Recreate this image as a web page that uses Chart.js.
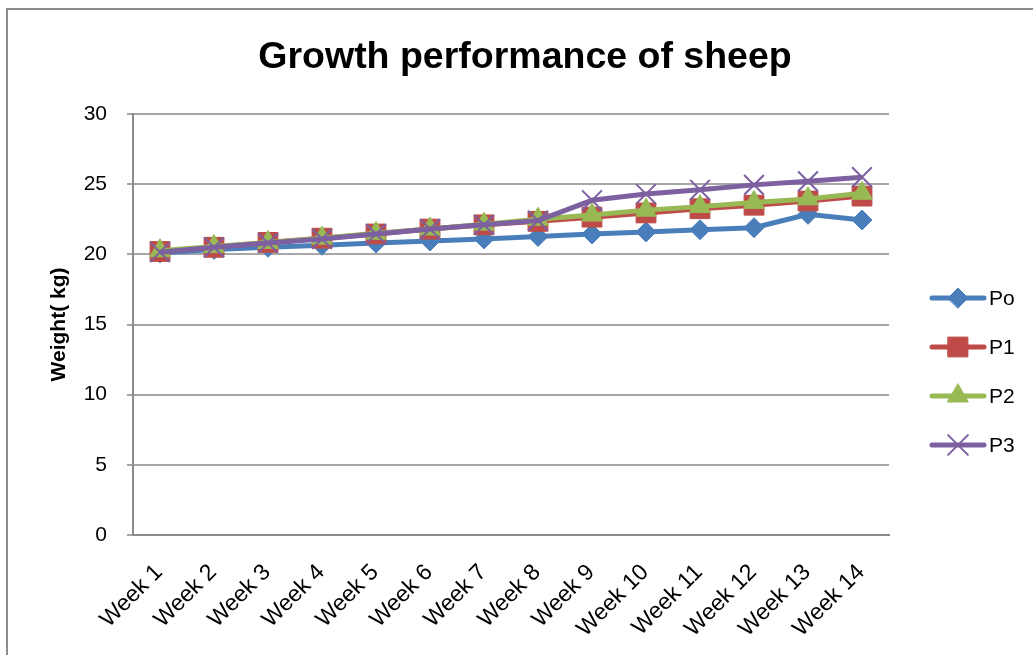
<!DOCTYPE html>
<html>
<head>
<meta charset="utf-8">
<script src="https://cdn.jsdelivr.net/npm/chart.js@4/dist/chart.umd.min.js"></script>
<style>
	body { margin: 0; background: #fff; }
	#wrap { position: relative; width: 1033px; height: 655px; }
	#frame { position: absolute; left: 6px; top: 8px; width: 1040px; height: 660px; border-left: 2px solid #8c8c8c; border-top: 2px solid #8c8c8c; }
	canvas { position: absolute; left: 0; top: 0; }
</style>
</head>
<body>
<div id="wrap">
	<div id="frame"></div>
	<canvas id="chart" width="1033" height="655"></canvas>
</div>
<script>
var weeks=["Week 1","Week 2","Week 3","Week 4","Week 5","Week 6","Week 7","Week 8","Week 9","Week 10","Week 11","Week 12","Week 13","Week 14"];
var po=[20.1, 20.35, 20.5, 20.65, 20.8, 20.95, 21.1, 21.27, 21.45, 21.6, 21.75, 21.9, 22.85, 22.45];
var p1=[20.2, 20.5, 20.85, 21.15, 21.45, 21.8, 22.1, 22.35, 22.65, 22.95, 23.25, 23.5, 23.8, 24.15];
var p2=[20.25, 20.55, 20.85, 21.15, 21.5, 21.8, 22.15, 22.5, 22.8, 23.15, 23.4, 23.7, 23.95, 24.35];
var p3=[20.15, 20.5, 20.8, 21.1, 21.45, 21.8, 22.1, 22.4, 23.85, 24.3, 24.6, 24.95, 25.2, 25.5];
var yTicks=[0,5,10,15,20,25,30];

var FONT="'Liberation Sans', Arial, sans-serif";

function series(label, data, color, style, radius, order) {
	return {
		label: label,
		data: data,
		order: order,
		borderColor: color,
		backgroundColor: color,
		borderWidth: 5,
		pointStyle: style,
		pointRadius: radius,
		pointHoverRadius: radius,
		pointBackgroundColor: color,
		pointBorderColor: color,
		pointBorderWidth: style=="crossRot" ? 2 : 1,
		tension: 0
	};
}

// legend drawn by hand: line with marker, like the spreadsheet one
var sideLegend={
	id: 'sideLegend',
	afterDraw: function(chart) {
		var ctx=chart.ctx;
		var sets=chart.data.datasets;
		for (var i=0; i<sets.length; i++) {
			var ds=sets[i];
			var y=298+i*49;
			ctx.save();
			ctx.strokeStyle=ds.borderColor;
			ctx.lineWidth=5;
			ctx.lineCap='round';
			ctx.beginPath();
			ctx.moveTo(932, y);
			ctx.lineTo(984, y);
			ctx.stroke();
			ctx.fillStyle=ds.pointBackgroundColor;
			ctx.strokeStyle=ds.pointBorderColor;
			ctx.lineWidth=ds.pointBorderWidth;
			Chart.helpers.drawPoint(ctx, {pointStyle: ds.pointStyle, radius: ds.pointRadius, borderWidth: ds.pointBorderWidth}, 958, y);
			ctx.fillStyle='#000';
			ctx.font='21px '+FONT;
			ctx.textBaseline='middle';
			ctx.textAlign='left';
			ctx.fillText(ds.label, 989, y+1);
			ctx.restore();
		}
	}
};

window.onload=function() {
	var chart=new Chart(document.getElementById('chart').getContext('2d'), {
		type: 'line',
		data: {
			labels: weeks,
			datasets: [
				// later series sit on top, as in the spreadsheet
				series("Po", po, "#4a7ebb", "rectRot", 10, 4),
				series("P1", p1, "#be4b48", "rect", 14, 3),
				series("P2", p2, "#98b954", "triangle", 12, 2),
				series("P3", p3, "#7d60a0", "crossRot", 14, 1)
			]
		},
		options: {
			responsive: false,
			animation: false,
			layout: { padding: { left: 20, right: 3, top: 20, bottom: 8 } },
			plugins: {
				legend: { display: false },
				tooltip: { enabled: false },
				title: {
					display: true,
					text: "Growth performance of sheep",
					color: '#000',
					font: { family: FONT, size: 37.5, weight: 'bold' },
					padding: { top: 15, bottom: 34 }
				}
			},
			scales: {
				x: {
					offset: true,
					grid: { display: false },
					border: { display: true, color: '#8c8c8c', width: 2 },
					ticks: {
						color: '#000',
						font: { family: FONT, size: 23 },
						maxRotation: 45,
						minRotation: 45,
						autoSkip: false,
						padding: 16,
						labelOffset: -1
					},
					// rotated labels may hang past the plot edges, as in the original
					afterFit: function(axis) { axis.paddingLeft=0; axis.paddingRight=0; axis.height=112; }
				},
				y: {
					min: 0,
					max: 30,
					afterBuildTicks: function(axis) {
						axis.ticks=yTicks.map(function(v) { return {value: v}; });
					},
					grid: { color: '#a6a6a6', lineWidth: 2, tickLength: 6 },
					border: { display: true, color: '#8c8c8c', width: 2 },
					ticks: {
						color: '#000',
						font: { family: FONT, size: 21 },
						padding: 20
					},
					title: {
						display: true,
						text: "Weight( kg)",
						color: '#000',
						font: { family: FONT, size: 21, weight: 'bold' },
						padding: { top: 27, bottom: 11 }
					},
					// chart.js counts the tick padding twice; keep the axis tight
					afterFit: function(axis) { axis.width=113; }
				},
				// empty axis on the right, keeps room for the legend
				legendRoom: {
					type: 'linear',
					position: 'right',
					display: true,
					grid: { display: false, drawTicks: false },
					border: { display: false },
					ticks: { display: false },
					afterFit: function(axis) { axis.width=141; }
				}
			}
		},
		plugins: [sideLegend]
	});
}
</script>
</body>
</html>
